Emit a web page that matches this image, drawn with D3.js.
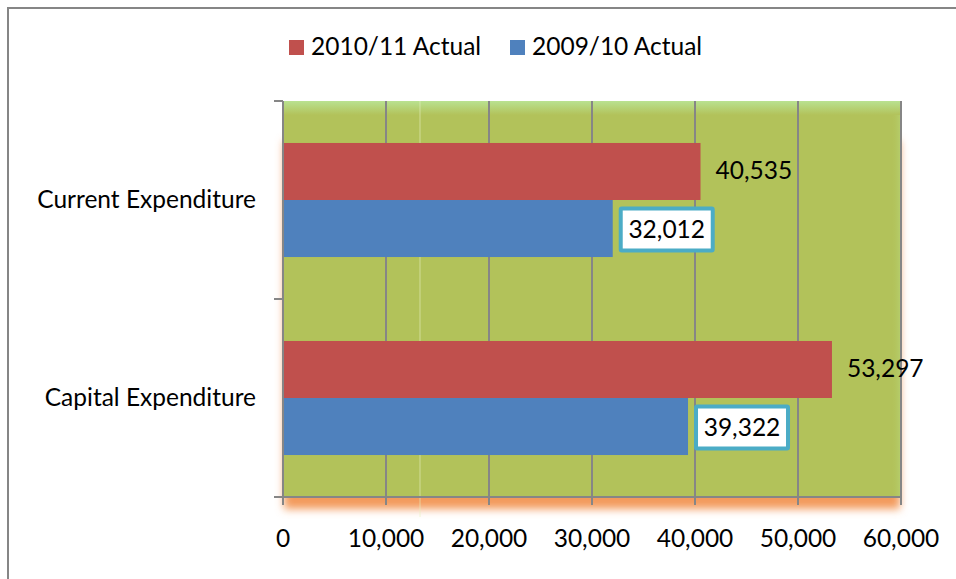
<!DOCTYPE html>
<html>
<head>
<meta charset="utf-8">
<script src="https://cdn.jsdelivr.net/npm/d3@7"></script>
<style>
  html, body { margin: 0; padding: 0; background: #ffffff; }
  svg { display: block; }
  text { font-family: Lato, "Open Sans", sans-serif; fill: #000; }
</style>
</head>
<body>
<svg id="chart" width="956" height="579"></svg>
<script>
// Expenditure by category, two financial years
const categories = ["Current Expenditure", "Capital Expenditure"];
const seriesNames = ["2010/11 Actual", "2009/10 Actual"];
const actual2010 = [40535, 53297];
const actual2009 = [32012, 39322];
const xTicks = [0, 10000, 20000, 30000, 40000, 50000, 60000];
const seriesColors = ["#c0504d", "#4f81bd"];

const seriesValues = [actual2010, actual2009];
const fmt = d3.format(",");

const svg = d3.select("#chart");
const W = 956, H = 579;
const plot = { left: 283, right: 901, top: 101, bottom: 497 };
const fontSize = 24.5;

// outer chart frame (only the top and left edges fall inside the view)
svg.append("rect")
  .attr("x", 8).attr("y", 8).attr("width", W + 10).attr("height", H + 10)
  .attr("fill", "#fff").attr("stroke", "#868686").attr("stroke-width", 2);

const x = d3.scaleLinear().domain([0, 60000]).range([plot.left, plot.right]);
const y = d3.scaleBand().domain(categories)
  .range([plot.top, plot.bottom]).paddingInner(0.424).paddingOuter(0.212);
const ySeries = d3.scaleBand().domain(seriesNames).range([0, y.bandwidth()]);

const defs = svg.append("defs");
const glow = defs.append("filter").attr("id", "glow")
  .attr("x", "-10%").attr("y", "-10%").attr("width", "120%").attr("height", "130%");
glow.append("feGaussianBlur").attr("stdDeviation", 4);

const topSheen = defs.append("linearGradient").attr("id", "topSheen")
  .attr("x1", 0).attr("y1", 0).attr("x2", 0).attr("y2", 1);
topSheen.append("stop").attr("offset", "0%").attr("stop-color", "#b9e291");
topSheen.append("stop").attr("offset", "100%").attr("stop-color", "#b2c25a");

const rightSheen = defs.append("linearGradient").attr("id", "rightSheen")
  .attr("x1", 0).attr("y1", 0).attr("x2", 1).attr("y2", 0);
rightSheen.append("stop").attr("offset", "0%").attr("stop-color", "#b2c25a").attr("stop-opacity", 0);
rightSheen.append("stop").attr("offset", "100%").attr("stop-color", "#b6cf6e").attr("stop-opacity", 1);

// soft orange shadow under the plot area, strongest along the bottom edge
svg.append("rect")
  .attr("x", plot.left + 1).attr("y", plot.top + 40)
  .attr("width", plot.right - plot.left - 2).attr("height", plot.bottom - plot.top - 28)
  .attr("fill", "#f39a5c").attr("opacity", 1).attr("filter", "url(#glow)");

// plot background
svg.append("rect")
  .attr("x", plot.left).attr("y", plot.top)
  .attr("width", plot.right - plot.left).attr("height", plot.bottom - plot.top)
  .attr("fill", "#b2c25a");
svg.append("rect")
  .attr("x", plot.left).attr("y", plot.top)
  .attr("width", plot.right - plot.left).attr("height", 14)
  .attr("fill", "url(#topSheen)");
svg.append("rect")
  .attr("x", plot.right - 10).attr("y", plot.top + 14)
  .attr("width", 10).attr("height", plot.bottom - plot.top - 14)
  .attr("fill", "url(#rightSheen)");
svg.append("line")
  .attr("x1", 420).attr("x2", 420).attr("y1", plot.top).attr("y2", plot.bottom + 20)
  .attr("stroke", "#e6f0c0").attr("stroke-width", 1).attr("opacity", 0.6);

// vertical gridlines with ticks below the axis
const grid = svg.append("g");
grid.selectAll("line").data(xTicks).join("line")
  .attr("x1", d => x(d)).attr("x2", d => x(d))
  .attr("y1", plot.top).attr("y2", plot.bottom + 8)
  .attr("stroke", "#868686").attr("stroke-width", 2);

// bottom axis line
svg.append("line")
  .attr("x1", plot.left - 9).attr("x2", plot.right)
  .attr("y1", plot.bottom).attr("y2", plot.bottom)
  .attr("stroke", "#868686").attr("stroke-width", 2);

// category axis boundary ticks
const boundaries = categories.map(c => y(c) - (y.step() - y.bandwidth()) / 2)
  .concat([plot.bottom]);
svg.append("g").selectAll("line").data(boundaries).join("line")
  .attr("x1", plot.left - 9).attr("x2", plot.left)
  .attr("y1", d => d).attr("y2", d => d)
  .attr("stroke", "#868686").attr("stroke-width", 2);

// bars
const bars = svg.append("g");
seriesNames.forEach((s, si) => {
  bars.selectAll(null).data(categories).join("rect")
    .attr("x", x(0))
    .attr("y", c => y(c) + ySeries(s))
    .attr("width", (c, i) => x(seriesValues[si][i]) - x(0))
    .attr("height", ySeries.bandwidth())
    .attr("fill", seriesColors[si]);
});

// value axis line drawn over the bars
svg.append("line")
  .attr("x1", plot.left).attr("x2", plot.left)
  .attr("y1", plot.top).attr("y2", plot.bottom)
  .attr("stroke", "#868686").attr("stroke-width", 2);

// data labels
const labels = svg.append("g").attr("font-size", fontSize);
categories.forEach((c, i) => {
  const v = actual2010[i];
  labels.append("text")
    .attr("x", x(v) + 15)
    .attr("y", y(c) + ySeries(seriesNames[0]) + ySeries.bandwidth() / 2 + 8)
    .text(fmt(v));

  const v2 = actual2009[i];
  const cy = y(c) + ySeries(seriesNames[1]) + ySeries.bandwidth() / 2;
  const g = labels.append("g");
  g.append("rect")
    .attr("x", x(v2) + 8).attr("y", cy - 20)
    .attr("width", 92).attr("height", 42)
    .attr("fill", "#fff").attr("stroke", "#4bacc6").attr("stroke-width", 4)
    .attr("rx", 1);
  g.append("text")
    .attr("x", x(v2) + 54)
    .attr("y", cy + 9)
    .attr("text-anchor", "middle")
    .text(fmt(v2));
});

// category labels
svg.append("g").attr("font-size", fontSize)
  .selectAll("text").data(categories).join("text")
  .attr("x", 256).attr("y", c => y(c) + y.bandwidth() / 2 + 8)
  .attr("text-anchor", "end")
  .text(c => c);

// value tick labels
svg.append("g").attr("font-size", fontSize)
  .selectAll("text").data(xTicks).join("text")
  .attr("x", d => x(d)).attr("y", 547)
  .attr("text-anchor", "middle")
  .text(d => fmt(d));

// legend
const legendX = [289, 510];
const legend = svg.append("g").attr("font-size", fontSize);
seriesNames.forEach((s, i) => {
  legend.append("rect")
    .attr("x", legendX[i]).attr("y", 40).attr("width", 15).attr("height", 15)
    .attr("fill", seriesColors[i]);
  legend.append("text")
    .attr("x", legendX[i] + 22).attr("y", 55)
    .text(s);
});
</script>
</body>
</html>
